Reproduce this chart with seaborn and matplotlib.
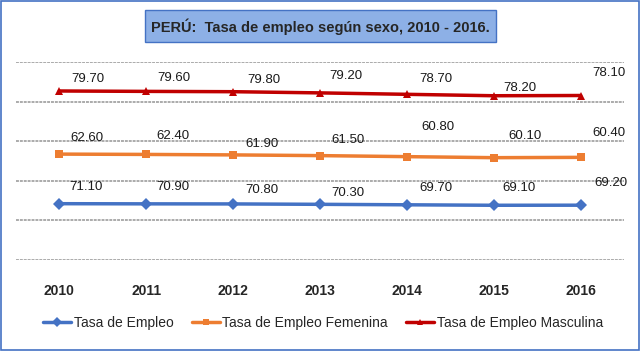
import numpy as np
import pandas as pd
import seaborn as sns
import matplotlib.pyplot as plt
from matplotlib.patches import Rectangle

# datos
years = ['2010', '2011', '2012', '2013', '2014', '2015', '2016']
tasa_empleo = [71.1, 70.9, 70.8, 70.3, 69.7, 69.1, 69.2]
tasa_femenina = [62.6, 62.4, 61.9, 61.5, 60.8, 60.1, 60.4]
tasa_masculina = [79.7, 79.6, 79.8, 79.2, 78.7, 78.2, 78.1]

series_names = ['Tasa de Empleo', 'Tasa de Empleo Femenina', 'Tasa de Empleo Masculina']
colors = ['#4472C4', '#ED7D31', '#C00000']
markers = ['D', 's', '^']

# desplazamiento de etiquetas (pixeles)
label_dx = [[27, 27, 29, 28, 29, 25, 30],
            [28, 27, 29, 28, 31, 31, 28],
            [28, 28, 31, 26, 29, 26, 28]]
label_dy = [[17, 17, 14, 11, 17, 17, 22],
            [16, 18, 11, 16, 30, 22, 24],
            [12, 13, 12, 17, 15, 8, 23]]

sns.set_style('white')
plt.rcParams['font.family'] = ['Liberation Sans', 'DejaVu Sans']

# Excel "línea apilada": cada serie se dibuja sobre la anterior
values = np.array([tasa_empleo, tasa_femenina, tasa_masculina])
stacked = np.cumsum(values, axis=0)

df = pd.DataFrame({
    'year': years * 3,
    'value': stacked.flatten(),
    'serie': np.repeat(series_names, len(years)),
})

fig = plt.figure(figsize=(6.4, 3.51), dpi=100)
ax = fig.add_axes([16 / 640, 91 / 351, 608 / 640, 198 / 351])

sns.lineplot(data=df, x='year', y='value', hue='serie', style='serie',
             palette=colors, markers=markers, dashes=False, linewidth=2.5,
             markersize=6, markeredgewidth=0, sort=False, ax=ax, legend=False)

ax.set_ylim(0, 250)
ax.set_xlim(-0.5, 6.5)
ax.set_yticks([0, 50, 100, 150, 200, 250])
ax.set_yticklabels([])
ax.tick_params(axis='y', length=0)
ax.tick_params(axis='x', length=0, pad=17, labelsize=10)
for t in ax.get_xticklabels():
    t.set_fontweight('bold')
ax.grid(axis='y', color='#ABABAB', linewidth=1.4, linestyle=(0, (1.5, 0.5)))
ax.set_xlabel('')
ax.set_ylabel('')
for s in ax.spines.values():
    s.set_visible(False)

for i in range(3):
    for j in range(len(years)):
        ax.annotate(f'{values[i, j]:.2f}', (j, stacked[i, j]),
                    xytext=(label_dx[i][j] * 0.72, label_dy[i][j] * 0.72),
                    textcoords='offset points', ha='center', va='center',
                    fontsize=9.5, color='#1a1a1a')

# leyenda
handles = [plt.Line2D([], [], color=c, marker=m, linewidth=2.5, markersize=5,
                      markeredgewidth=0) for c, m in zip(colors, markers)]
fig.legend(handles, series_names, loc='center', bbox_to_anchor=(0.505, 0.08),
           ncol=3, frameon=False, fontsize=10, handlelength=2.0,
           handletextpad=0.2, columnspacing=1.3)

# titulo con recuadro
fig.patches.append(Rectangle((145 / 640, 1 - 42 / 351), 351 / 640, 32 / 351,
                             transform=fig.transFigure, facecolor='#8DB0E6',
                             edgecolor='#4472C4', linewidth=1))
fig.text(320 / 640, 1 - 26.5 / 351, 'PERÚ:  Tasa de empleo según sexo, 2010 - 2016.',
         ha='center', va='center', fontsize=10.5, fontweight='bold')

# borde exterior
fig.patches.append(Rectangle((0.001, 0.002), 0.997, 0.996, transform=fig.transFigure,
                             fill=False, edgecolor='#4472C4', linewidth=1.2))

fig.savefig('out.png', dpi=100)
